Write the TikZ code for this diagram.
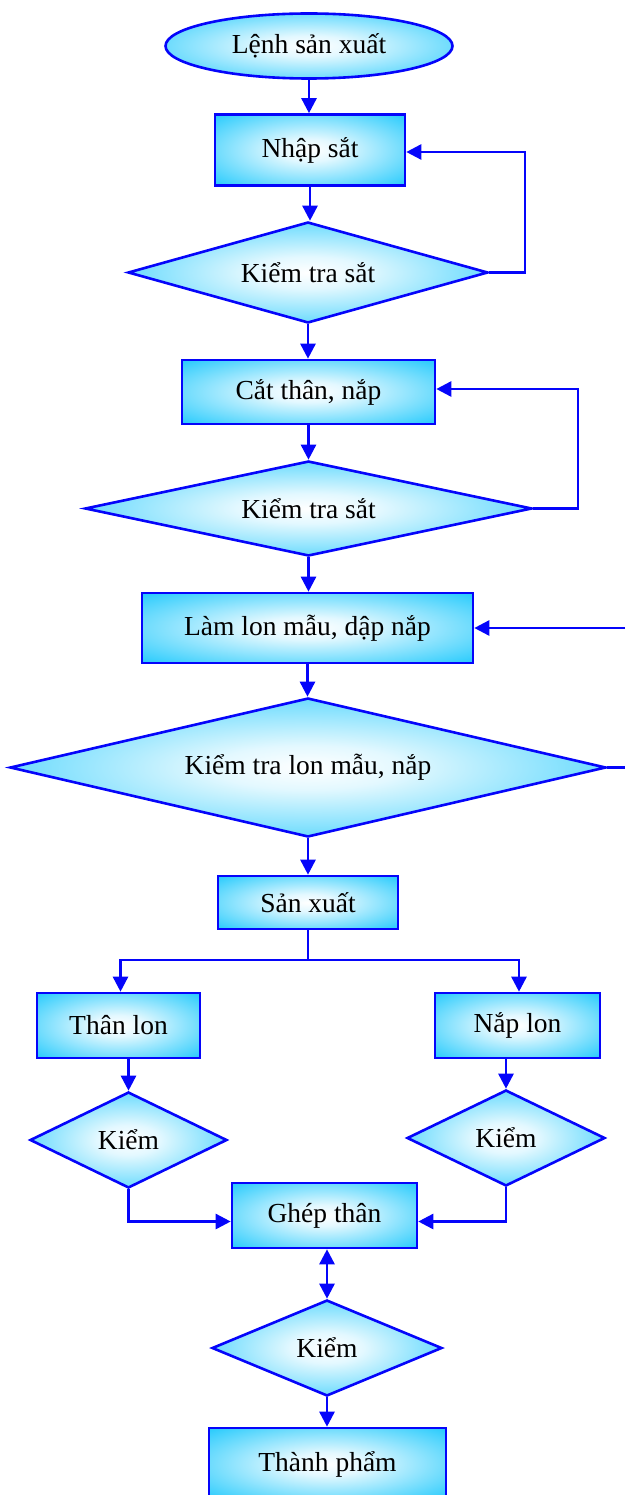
\documentclass[tikz,border=0pt]{standalone}
\usepackage{fontspec}
\setmainfont{Liberation Serif}
\usetikzlibrary{shapes.geometric,arrows.meta}
\definecolor{edgeblue}{RGB}{5,5,250}
\definecolor{skycyan}{RGB}{20,198,252}
% white core fading into cyan towards the outline
\pgfdeclareradialshading{glow}{\pgfpoint{0bp}{0bp}}{%
  color(0bp)=(white); color(8bp)=(white!88!skycyan);
  color(38bp)=(skycyan); color(75bp)=(skycyan)}
\tikzset{
  base/.style={draw=edgeblue, line width=2.6pt, shade, shading=glow,
    inner sep=0pt, font=\fontsize{27.5}{33}\selectfont},
  stepbox/.style={base, rectangle, minimum width=#1},
  decide/.style={base, diamond, aspect=3},
  startnode/.style={base, ellipse},
  link/.style={draw=edgeblue, line width=2.6pt},
  arr/.style={link, -{Triangle[length=15pt,width=15pt]}},
  dbl/.style={link, {Triangle[length=15pt,width=15pt]}-{Triangle[length=15pt,width=15pt]}},
}
\begin{document}
\begin{tikzpicture}[x=1pt, y=-1pt]
\clip (0,0) rectangle (625,1495);

% main column
\node[startnode, minimum width=287pt, minimum height=65pt] (L) at (309,46) {Lệnh sản xuất};
\node[stepbox=190pt, minimum height=71pt] (N1) at (310,150) {Nhập sắt};
\node[decide, minimum width=360pt, minimum height=101pt] (D1) at (308,272.5) {Kiểm tra sắt};
\node[stepbox=253pt, minimum height=64pt] (R2) at (308.5,392) {Cắt thân, nắp};
\node[decide, minimum width=447pt, minimum height=95pt] (D2) at (308.5,508.5) {Kiểm tra sắt};
\node[stepbox=331pt, minimum height=70pt] (R3) at (307.5,628) {Làm lon mẫu, dập nắp};
\node[decide, aspect=4, minimum width=596pt, minimum height=139pt] (D3) at (308,767.5) {Kiểm tra lon mẫu, nắp};
\node[stepbox=180pt, minimum height=53pt] (R4) at (308,902.5) {Sản xuất};

% two branches
\node[stepbox=163pt, minimum height=65pt] (T) at (118.5,1025.5) {Thân lon};
\node[stepbox=165pt, minimum height=65pt] (P) at (517.5,1025.5) {Nắp lon};
\node[decide, aspect=2, minimum width=197pt, minimum height=96pt] (K1) at (128.5,1140) {Kiểm};
\node[decide, aspect=2, minimum width=198pt, minimum height=96pt] (K2) at (506,1138) {Kiểm};

% assembly
\node[stepbox=185pt, minimum height=65pt] (G) at (324.5,1215.5) {Ghép thân};
\node[decide, aspect=2, minimum width=230pt, minimum height=96pt] (K3) at (327,1348) {Kiểm};
\node[stepbox=237pt, minimum height=72pt] (TP) at (327.5,1464) {Thành phẩm};

% helper coordinates
\coordinate (f1) at (525,0);
\coordinate (f2) at (578,0);
\coordinate (inR3) at (625,628);
\coordinate (outD3) at (625,767.5);
\coordinate (sp) at (309,960);

% vertical flow
\draw[arr] (L) -- (L |- N1.north);
\draw[arr] (N1.south) -- (N1.south |- D1.north);
\draw[arr] (D1.south) -- (D1.south |- R2.north);
\draw[arr] (R2.south) -- (R2.south |- D2.north);
\draw[arr] (D2.south) -- (D2.south |- R3.north);
\draw[arr] (R3.south) -- (R3.south |- D3.north);
\draw[arr] (D3.south) -- (D3.south |- R4.north);

% loops back
\draw[arr] (D1.east) -- (D1.east -| f1) |- ([yshift=-2pt]N1.east);
\draw[arr] (D2.east) -- (D2.east -| f2) |- ([yshift=3pt]R2.east);
\draw[arr] (inR3) -- (R3.east);
\draw[link] (D3.east) -- (outD3);

% split into branches
\draw[link] (R4.south) -- (R4.south |- sp);
\draw[arr] (R4.south |- sp) -| ([xshift=2pt]T.north);
\draw[arr] (R4.south |- sp) -| ([xshift=1.5pt]P.north);
\draw[arr] (K1.north |- T.south) -- (K1.north);
\draw[arr] (K2.north |- P.south) -- (K2.north);

% merge
\draw[arr] (K1.south) |- ([yshift=-6pt]G.west);
\draw[arr] (K2.south) |- ([yshift=-6pt]G.east);
\draw[dbl] (K3.north |- G.south) -- (K3.north);
\draw[arr] (K3.south) -- (K3.south |- TP.north);
\end{tikzpicture}
\end{document}
